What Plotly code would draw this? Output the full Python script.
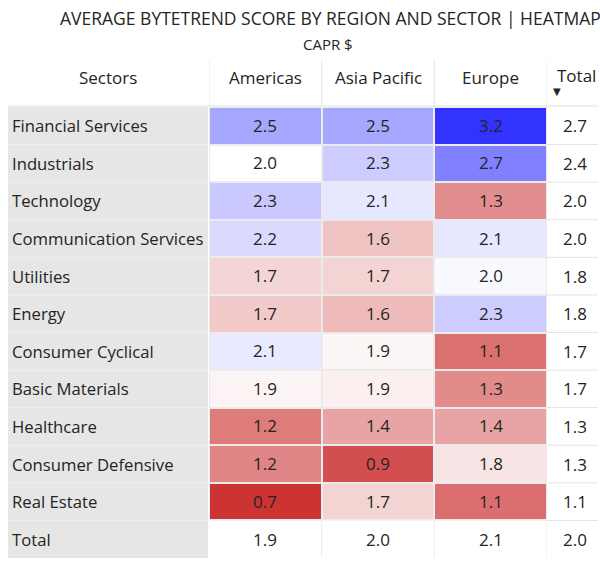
import plotly.graph_objects as go

title = "AVERAGE BYTETREND SCORE BY REGION AND SECTOR | HEATMAP"
subtitle = "CAPR $"
row_header = "Sectors"
total_label = "Total"
regions = ["Americas", "Asia Pacific", "Europe"]
sectors = ["Financial Services", "Industrials", "Technology", "Communication Services",
           "Utilities", "Energy", "Consumer Cyclical", "Basic Materials", "Healthcare",
           "Consumer Defensive", "Real Estate"]
americas = [2.52, 2.00, 2.32, 2.22, 1.73, 1.66, 2.13, 1.93, 1.16, 1.22, 0.70]
asia_pacific = [2.52, 2.30, 2.14, 1.62, 1.72, 1.56, 1.94, 1.90, 1.42, 0.88, 1.72]
europe = [3.20, 2.74, 1.28, 2.14, 2.04, 2.30, 1.09, 1.26, 1.42, 1.83, 1.08]
sector_totals = [2.7, 2.4, 2.0, 2.0, 1.8, 1.8, 1.7, 1.7, 1.3, 1.3, 1.1]
region_totals = [1.9, 2.0, 2.1]
grand_total = 2.0

W, H = 600, 565
FONT = "Open Sans"
TXT = "#252423"
FS = 17
LFS = 16.7

def px(x):
    return x / W

def py(y):
    return 1 - y / H

zmin, zmid, zmax = 0.7, 2.0, 3.2
mid = (zmid - zmin) / (zmax - zmin)
colorscale = [[0, "#CC3333"], [mid, "#FFFFFF"], [1, "#3333FF"]]

z = [[americas[i], asia_pacific[i], europe[i]] for i in range(len(sectors))]

fig = go.Figure()
fig.add_trace(go.Heatmap(
    z=z, x=regions, y=sectors,
    colorscale=colorscale, zmin=zmin, zmax=zmax, showscale=False,
    xgap=2, ygap=2,
    texttemplate="%{z:.1f}", textfont=dict(family=FONT, size=FS, color=TXT),
    hoverinfo="skip",
))

n = len(sectors)
shapes = []
shapes.append(dict(type="rect", xref="x", yref="y", x0=-0.5, x1=2.5, y0=-0.5, y1=n - 0.5,
                   fillcolor="#ebebeb", line=dict(width=0), layer="below"))
shapes.append(dict(type="rect", xref="paper", yref="y", x0=px(8), x1=px(208), y0=-0.5, y1=n + 0.5,
                   fillcolor="#e6e6e6", line=dict(width=0), layer="below"))
for i in range(n):
    shapes.append(dict(type="line", xref="paper", yref="y", x0=px(8), x1=px(208), y0=i + 0.5, y1=i + 0.5,
                       line=dict(color="#efefef", width=1), layer="below"))
    shapes.append(dict(type="line", xref="paper", yref="y", x0=px(547), x1=px(598), y0=i + 0.5, y1=i + 0.5,
                       line=dict(color="#e3e3e3", width=1), layer="below"))
for xv in [0.5, 1.5, 2.5]:
    shapes.append(dict(type="line", xref="x", yref="y", x0=xv, x1=xv, y0=n - 0.5, y1=n + 0.5,
                       line=dict(color="#ececec", width=1), layer="below"))
for xv in [-0.5, 0.5, 1.5, 2.5]:
    shapes.append(dict(type="line", xref="x", yref="paper", x0=xv, x1=xv, y0=py(106), y1=py(60),
                       line=dict(color="#e6e6e6", width=1), layer="below"))
shapes.append(dict(type="line", xref="paper", yref="paper", x0=px(8), x1=px(598), y0=py(106), y1=py(106),
                   line=dict(color="#e0e0e0", width=1), layer="below"))

def a(text, x, y, xref="paper", yref="paper", size=FS, xanchor="center", family=FONT):
    return dict(text=text, xref=xref, yref=yref, x=x, y=y, showarrow=False,
                font=dict(family=family, size=size, color=TXT), xanchor=xanchor, yanchor="middle")

ann = []
ann.append(a(title, px(330), py(18), size=17.5))
ann.append(a(subtitle, px(328), py(44), size=15))
ann.append(a(row_header, px(108), py(78)))
for r in regions:
    ann.append(a(r, r, py(78), xref="x"))
ann.append(a(total_label, px(576), py(76)))
ann.append(a("▼", px(557), py(92), size=10, family="DejaVu Sans"))
for i, s in enumerate(sectors):
    ann.append(a(s, px(10), s, yref="y", xanchor="left", size=LFS))
    ann.append(a(f"{sector_totals[i]:.1f}", px(575), s, yref="y"))
ann.append(a(total_label, px(10), n, yref="y", xanchor="left", size=LFS))
for j, r in enumerate(regions):
    ann.append(a(f"{region_totals[j]:.1f}", r, n, xref="x", yref="y"))
ann.append(a(f"{grand_total:.1f}", px(575), n, yref="y"))

fig.update_layout(
    width=W, height=H, margin=dict(l=0, r=0, t=0, b=0),
    paper_bgcolor="white", plot_bgcolor="white",
    xaxis=dict(domain=[px(209), px(547)], range=[-0.5, 2.5], visible=False, fixedrange=True),
    yaxis=dict(domain=[py(558), py(107)], range=[n + 0.5, -0.5], visible=False, fixedrange=True,
               type="category", categoryorder="array", categoryarray=sectors + [total_label]),
    shapes=shapes, annotations=ann, showlegend=False,
)
fig.write_html("out.html", config={"displayModeBar": False},
               post_script="document.body.style.margin='0px';document.body.style.overflow='hidden';")
